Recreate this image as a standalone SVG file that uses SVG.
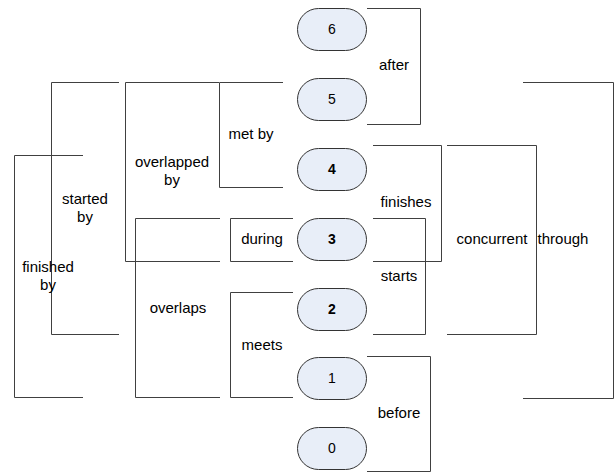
<svg xmlns="http://www.w3.org/2000/svg" width="615" height="473" viewBox="0 0 615 473">
<style>
.n rect{fill:#e8eef8;stroke:#333;stroke-width:1}
.n text{font-family:"Liberation Sans",Arial,sans-serif;font-size:14px;fill:#000;text-anchor:middle}
.b text{font-weight:bold}
#connectors path{fill:none;stroke:#404040;stroke-width:1}
.l{font-family:"Liberation Sans",Arial,sans-serif;font-size:15px;fill:#000;text-anchor:middle}
</style>
<rect width="615" height="473" fill="#fff"/>
<g id="connectors">
<path id="after" d="M367,8.5H420.5V124.5H367"/>
<path id="through" d="M523,82.5H613.5V398.5H523"/>
<path id="concurrent" d="M447,145.5H536.5V334.5H447"/>
<path id="finishes" d="M373,145.5H441.5V261.5H373"/>
<path id="starts" d="M373,218.5H425.5V334.5H373"/>
<path id="before" d="M367,356.5H430.5V471.5H367"/>
<path id="metby" d="M283,82.5H219.5V187.5H283"/>
<path id="overlappedby" d="M219,82.5H125.5V261.5H220"/>
<path id="during" d="M293,218.5H230.5V261.5H293"/>
<path id="overlaps" d="M220,218.5H135.5V397.5H220"/>
<path id="meets" d="M293,292.5H230.5V397.5H293"/>
<path id="startedby" d="M119,82.5H51.5V334.5H119"/>
<path id="finishedby" d="M83,155.5H14.5V397.5H83"/>
</g>
<g id="labels">
<text class="l" x="394" y="70">after</text>
<text class="l" x="563" y="244">through</text>
<text class="l" x="492" y="244">concurrent</text>
<text class="l" x="406" y="207">finishes</text>
<text class="l" x="399" y="281">starts</text>
<text class="l" x="399" y="418">before</text>
<text class="l" x="251" y="139">met by</text>
<text class="l" x="172" y="167">overlapped</text>
<text class="l" x="172" y="185">by</text>
<text class="l" x="262" y="244">during</text>
<text class="l" x="178" y="313">overlaps</text>
<text class="l" x="262" y="350">meets</text>
<text class="l" x="85" y="204">started</text>
<text class="l" x="85" y="222">by</text>
<text class="l" x="48" y="272">finished</text>
<text class="l" x="48" y="290">by</text>
</g>
<g id="node6" class="n"><rect x="297.5" y="8.5" width="69" height="42" rx="21"/><text x="332" y="34">6</text></g>
<g id="node5" class="n"><rect x="297.5" y="78.5" width="69" height="42" rx="21"/><text x="332" y="104">5</text></g>
<g id="node4" class="n b"><rect x="297.5" y="148.5" width="69" height="42" rx="21"/><text x="332" y="174">4</text></g>
<g id="node3" class="n b"><rect x="297.5" y="218.5" width="69" height="42" rx="21"/><text x="332" y="244">3</text></g>
<g id="node2" class="n b"><rect x="297.5" y="288.5" width="69" height="42" rx="21"/><text x="332" y="314">2</text></g>
<g id="node1" class="n"><rect x="297.5" y="357.5" width="69" height="42" rx="21"/><text x="332" y="383">1</text></g>
<g id="node0" class="n"><rect x="297.5" y="427.5" width="69" height="42" rx="21"/><text x="332" y="453">0</text></g>
</svg>
